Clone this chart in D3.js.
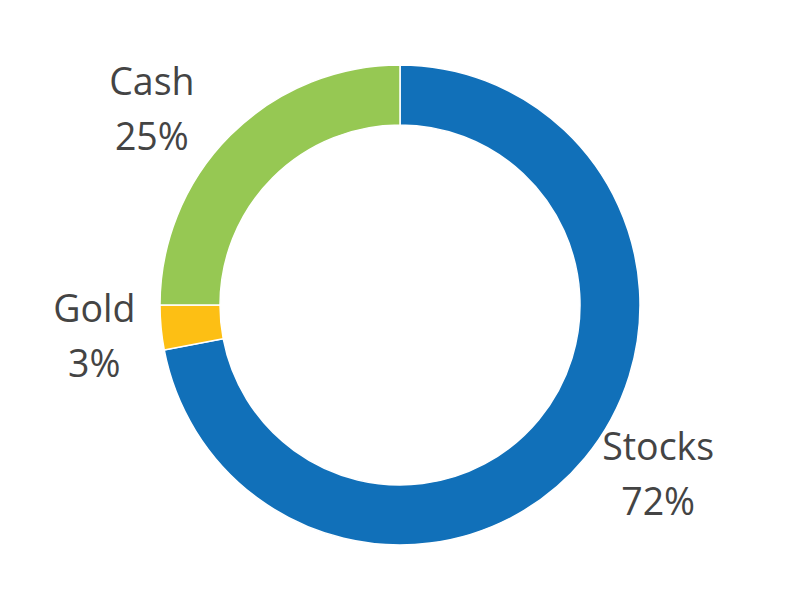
<!DOCTYPE html>
<html><head><meta charset="utf-8">
<script src="https://cdn.jsdelivr.net/npm/d3@7"></script>
<style>html,body{margin:0;padding:0;background:#fff;}</style>
</head><body>
<svg id="chart" width="800" height="600"></svg>
<script>
const categories = ["Stocks", "Gold", "Cash"];
const values = [72, 3, 25];
const colors = ["#1170b9", "#fdbf14", "#96c853"];

const svg = d3.select("#chart");
const cx = 400, cy = 305, outerR = 240, innerR = 180;
const g = svg.append("g").attr("transform", `translate(${cx},${cy})`);

const pie = d3.pie().sort(null).value(d => d.value);
const data = categories.map((c, i) => ({ name: c, value: values[i], color: colors[i] }));
const arcs = pie(data);
const arc = d3.arc().innerRadius(innerR).outerRadius(outerR);

g.selectAll("path").data(arcs).enter().append("path")
  .attr("d", arc)
  .attr("fill", d => d.data.color)
  .attr("stroke", "#fff")
  .attr("stroke-width", 1.5);

const labelArc = d3.arc().innerRadius(300).outerRadius(300);
const nudges = [[27, -36], [-7, -11], [-36, 2]];
const lab = g.selectAll("text.lbl").data(arcs).enter().append("text")
  .attr("class", "lbl")
  .attr("text-anchor", "middle")
  .attr("font-family", "'Open Sans', sans-serif")
  .attr("font-size", 37.5)
  .attr("fill", "#444")
  .attr("transform", (d, i) => {
    const c = labelArc.centroid(d);
    return `translate(${c[0] + nudges[i][0]},${c[1] + nudges[i][1]})`;
  });
lab.append("tspan").attr("x", 0).attr("y", 0).text(d => d.data.name);
lab.append("tspan").attr("x", 0).attr("y", 55).text(d => d.data.value + "%");
</script>
</body></html>
